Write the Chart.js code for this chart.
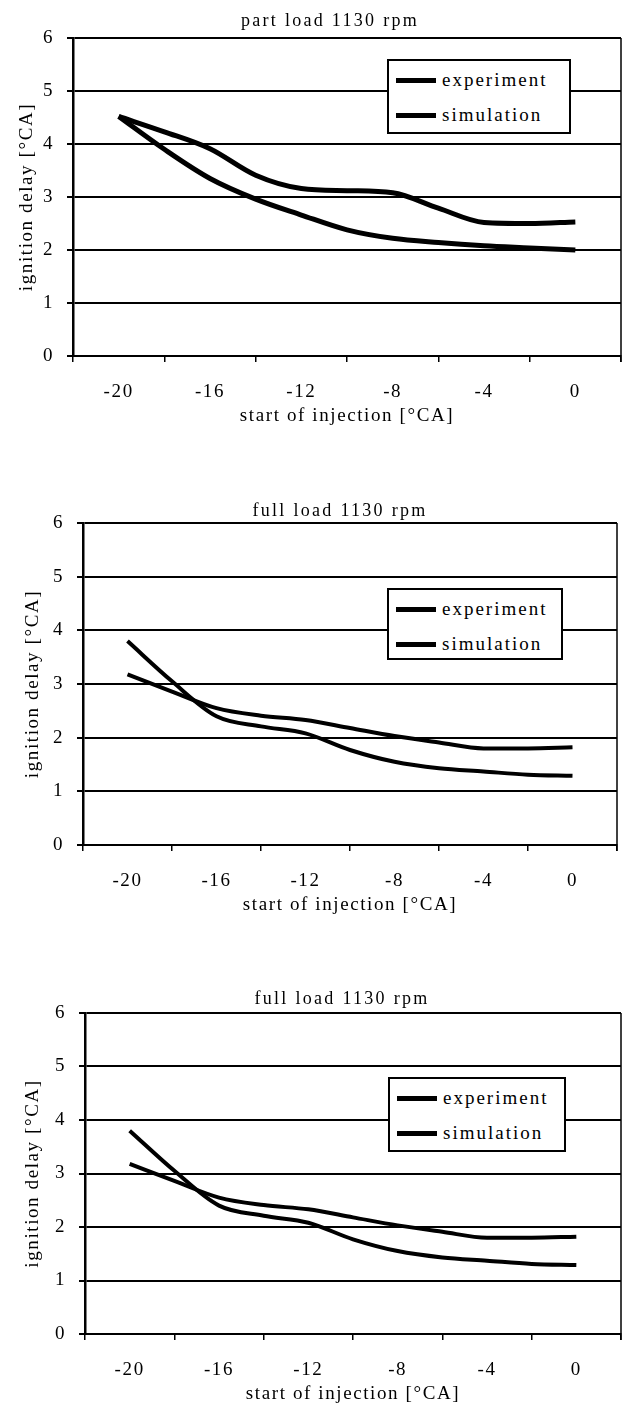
<!DOCTYPE html>
<html>
<head>
<meta charset="utf-8">
<script src="https://cdn.jsdelivr.net/npm/chart.js@4.4.1/dist/chart.umd.min.js"></script>
<style>
    body { margin: 0; background: #fff; width: 630px; height: 1412px; overflow: hidden; position: relative; font-family: "Liberation Serif", "DejaVu Serif", serif; color: #000; }
    canvas { position: absolute; left: 0; }
    .title { position: absolute; transform: translate(-50%, -50%); font-size: 18px; letter-spacing: 2.3px; white-space: nowrap; }
    .legend { position: absolute; border: 2px solid #000; background: #fff; box-sizing: border-box; }
    .legend .row { position: absolute; left: 7px; height: 22px; display: flex; align-items: center; font-size: 19px; letter-spacing: 2px; white-space: nowrap; }
    .legend .swatch { display: inline-block; width: 40px; height: 5px; background: #000; margin-right: 6px; }
</style>
</head>
<body>
<div id="panels"></div>
<script>
// values
const injectionStart = [-20, -18, -16, -14, -12, -10, -8, -6, -4, -2, 0];
const xTickValues = [-20, -16, -12, -8, -4, 0];
const seriesNames = ['experiment', 'simulation'];
const panelTitles = ['part load 1130 rpm', 'full load 1130 rpm', 'full load 1130 rpm'];

const partLoadExperiment = [4.52, 4.23, 3.91, 3.41, 3.16, 3.12, 3.08, 2.79, 2.52, 2.50, 2.53];
const partLoadSimulation = [4.52, 3.90, 3.35, 2.96, 2.66, 2.38, 2.22, 2.14, 2.08, 2.04, 2.00];
const fullLoadExperiment = [3.80, 3.05, 2.40, 2.21, 2.08, 1.77, 1.55, 1.43, 1.37, 1.31, 1.29];
const fullLoadSimulation = [3.18, 2.86, 2.55, 2.41, 2.33, 2.18, 2.03, 1.91, 1.80, 1.80, 1.82];

// layout of the three panels (pixels on the page)
const panels = [
    { series: [partLoadExperiment, partLoadSimulation], left: 73, right: 621, top: 38, bottom: 356, yTitleX: 27, titleX: 330, titleY: 20, lineWidth: 5, legend: { x: 387, y: 59, w: 184, h: 75 } },
    { series: [fullLoadExperiment, fullLoadSimulation], left: 83, right: 617, top: 523, bottom: 845, yTitleX: 33, titleX: 340, titleY: 510, lineWidth: 4, legend: { x: 387, y: 588, w: 176, h: 72 } },
    { series: [fullLoadExperiment, fullLoadSimulation], left: 85, right: 621, top: 1013, bottom: 1334, yTitleX: 33, titleX: 342, titleY: 998, lineWidth: 4, legend: { x: 388, y: 1077, w: 178, h: 75 } }
];

const serif = '"Liberation Serif", "DejaVu Serif", serif';

// the old plot text is drawn wide, so space the letters a bit
const spacingPlugin = {
    id: 'spacing',
    beforeLayout(chart) { chart.ctx.letterSpacing = '1.6px'; },
    beforeDraw(chart) { chart.ctx.letterSpacing = '1.6px'; }
};

// right side of the plot box
const framePlugin = {
    id: 'frame',
    beforeDatasetsDraw(chart) {
        const { ctx, chartArea: a } = chart;
        ctx.save();
        ctx.strokeStyle = '#000';
        ctx.lineWidth = 1.5;
        ctx.beginPath();
        ctx.moveTo(a.right, a.top);
        ctx.lineTo(a.right, a.bottom + 6);
        ctx.stroke();
        ctx.restore();
    }
};

const container = document.getElementById('panels');

panels.forEach((p, i) => {
    const canvasTop = p.top - 40;
    const canvasHeight = p.bottom + 76 - canvasTop;

    const canvas = document.createElement('canvas');
    canvas.style.top = canvasTop + 'px';
    canvas.style.width = '630px';
    canvas.style.height = canvasHeight + 'px';
    canvas.width = 630;
    canvas.height = canvasHeight;
    container.appendChild(canvas);

    const title = document.createElement('div');
    title.className = 'title';
    title.style.left = p.titleX + 'px';
    title.style.top = p.titleY + 'px';
    title.textContent = panelTitles[i];
    container.appendChild(title);

    const legend = document.createElement('div');
    legend.className = 'legend';
    legend.style.left = p.legend.x + 'px';
    legend.style.top = p.legend.y + 'px';
    legend.style.width = p.legend.w + 'px';
    legend.style.height = p.legend.h + 'px';
    seriesNames.forEach((name, k) => {
        const row = document.createElement('div');
        row.className = 'row';
        row.style.top = (k === 0 ? 8 : 43) + 'px';
        row.innerHTML = '<span class="swatch"></span>';
        row.appendChild(document.createTextNode(name));
        legend.appendChild(row);
    });
    container.appendChild(legend);

    new Chart(canvas, {
        type: 'line',
        data: {
            datasets: p.series.map((values, k) => ({
                label: seriesNames[k],
                data: injectionStart.map((x, j) => ({ x: x, y: values[j] })),
                borderColor: '#000',
                borderWidth: p.lineWidth,
                pointRadius: 0,
                cubicInterpolationMode: 'monotone',
                fill: false
            }))
        },
        options: {
            responsive: false,
            animation: false,
            layout: { padding: { top: 40, right: 630 - p.right, bottom: 0, left: 0 } },
            plugins: { legend: { display: false }, title: { display: false }, tooltip: { enabled: false } },
            scales: {
                x: {
                    type: 'linear',
                    min: -22,
                    max: 2,
                    afterBuildTicks: s => { s.ticks = xTickValues.map(v => ({ value: v })); },
                    afterFit: s => { s.height = 76; },
                    grid: { offset: true, drawOnChartArea: false, drawTicks: true, tickLength: 6, color: '#000', lineWidth: 1.5 },
                    border: { display: true, color: '#000', width: 2 },
                    ticks: { color: '#000', padding: 19, font: { family: serif, size: 19 }, maxRotation: 0 },
                    title: { display: true, text: 'start of injection [°CA]', color: '#000', font: { family: serif, size: 19 }, padding: { top: 0, bottom: 5 } }
                },
                y: {
                    min: 0,
                    max: 6,
                    afterFit: s => { s.width = p.left; },
                    grid: { color: '#000', lineWidth: 2, drawTicks: true, tickLength: 6 },
                    border: { display: true, color: '#000', width: 2.5 },
                    ticks: { stepSize: 1, color: '#000', padding: 13, font: { family: serif, size: 19 } },
                    title: { display: true, text: 'ignition delay [°CA]', color: '#000', font: { family: serif, size: 19 }, padding: { top: p.yTitleX - 11, bottom: 0 } }
                }
            }
        },
        plugins: [spacingPlugin, framePlugin]
    });
});
</script>
</body>
</html>
